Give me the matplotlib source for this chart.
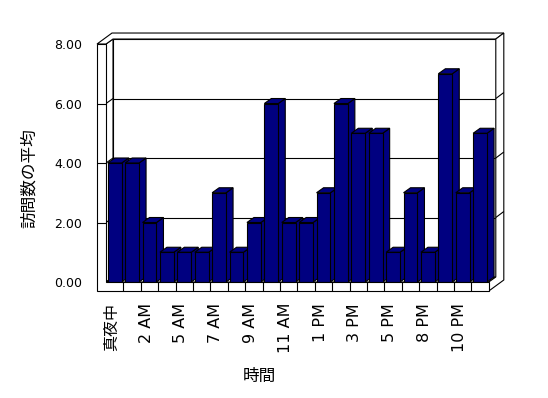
import numpy as np
import matplotlib
matplotlib.use("Agg")
import matplotlib.pyplot as plt
from matplotlib.patches import Polygon

plt.rcParams['font.family'] = ['DejaVu Sans', 'Noto Sans CJK JP']

# data (two hours have no entry)
hours = ['真夜中', '1 AM', '2 AM', '4 AM', '5 AM', '6 AM', '7 AM', '8 AM',
         '9 AM', '10 AM', '11 AM', '12 PM', '1 PM', '2 PM', '3 PM', '4 PM',
         '5 PM', '7 PM', '8 PM', '9 PM', '10 PM', '11 PM']
visits = [4, 4, 2, 1, 1, 1, 3, 1, 2, 6, 2, 2, 3, 6, 5, 5, 1, 3, 1, 7, 3, 5]
y_ticks = [0, 2, 4, 6, 8]
y_tick_labels = ['0.00', '2.00', '4.00', '6.00', '8.00']

NAVY = '#000080'
LW = 0.8

# pixel sizes of one category / one unit, used for the fake 3D depth
CAT_PX = 17.4
VAL_PX = 29.75
dx, dy = 7 / CAT_PX, 5 / VAL_PX      # depth of floor / bars
tx, ty = 8 / CAT_PX, 6 / VAL_PX      # back wall thickness
wl, tf = 9 / CAT_PX, 9 / VAL_PX      # left wall / floor thickness

n = len(visits)
top = y_ticks[-1]
idx = np.arange(n)

fig = plt.figure(figsize=(5.48, 3.98), dpi=100)
ax = fig.add_axes([88.6 / 548, (398 - 296.875) / 398, 417.6 / 548, 270.7 / 398])
ax.set_xlim(-1, 23)
ax.set_ylim(-0.5, 8.6)


def poly(pts, z, fc='white'):
    ax.add_patch(Polygon(pts, closed=True, fc=fc, ec='black', lw=LW,
                         zorder=z, joinstyle='miter'))


def line(xs, ys, z):
    ax.plot(xs, ys, color='black', lw=LW, zorder=z, solid_capstyle='butt')


# walls and floor
poly([(dx, dy), (n + dx, dy), (n + dx, top + dy), (dx, top + dy)], 1)
poly([(0, 0), (dx, dy), (dx, top + dy), (0, top)], 1)
poly([(0, 0), (n, 0), (n + dx, dy), (dx, dy)], 1)
for v in y_ticks[1:-1]:
    line([dx, n + dx], [v + dy, v + dy], 1.5)
    line([0, dx], [v, v + dy], 1.5)

# top of left and back wall
poly([(-wl, top), (0, top), (dx, top + dy), (n + dx, top + dy),
      (n + dx + tx, top + dy + ty), (-wl + dx + tx, top + dy + ty)], 2)

# right end of back wall and floor
poly([(n, 0), (n, -tf), (n + dx + tx, -tf + dy + ty), (n + dx + tx, top + dy + ty),
      (n + dx, top + dy), (n + dx, dy)], 2)
for v in y_ticks[1:-1]:
    line([n + dx, n + dx + tx], [v + dy, v + dy + ty], 2.5)

# bars
fronts = ax.bar(idx + 0.1, visits, width=0.8, align='edge', color=NAVY,
                edgecolor='black', linewidth=LW)
for i, (p, v) in enumerate(zip(fronts, visits)):
    x0, x1 = i + 0.1, i + 0.9
    z = 10 + 3 * i
    poly([(x1, 0), (x1 + dx, dy), (x1 + dx, v + dy), (x1, v)], z, NAVY)
    poly([(x0, v), (x1, v), (x1 + dx, v + dy), (x0 + dx, v + dy)], z + 1, NAVY)
    p.set_zorder(z + 2)

# front face of left wall and floor
poly([(-wl, top), (-wl, -tf), (n, -tf), (n, 0), (0, 0), (0, top)], 200)
for v in y_ticks[1:-1]:
    line([-wl, 0], [v, v], 201)
for k in range(1, n):
    line([k, k], [-tf, 0], 201)

ax.set_xticks(idx[::2] + 0.3, hours[::2], rotation=90, fontsize=11.5)
ax.set_yticks(y_ticks, y_tick_labels, fontsize=9)
ax.tick_params(axis='x', length=0, pad=4.4)
ax.tick_params(axis='y', length=0, pad=4.75)
for s in ax.spines.values():
    s.set_visible(False)
ax.patch.set_visible(False)

ax.set_ylabel('訪問数の平均', fontsize=12)
ax.yaxis.set_label_coords(-0.121, 0.439)
ax.set_xlabel('時間', fontsize=12)
ax.xaxis.set_label_coords(0.41, -0.259)

fig.savefig('out.png', dpi=100, facecolor='white')
